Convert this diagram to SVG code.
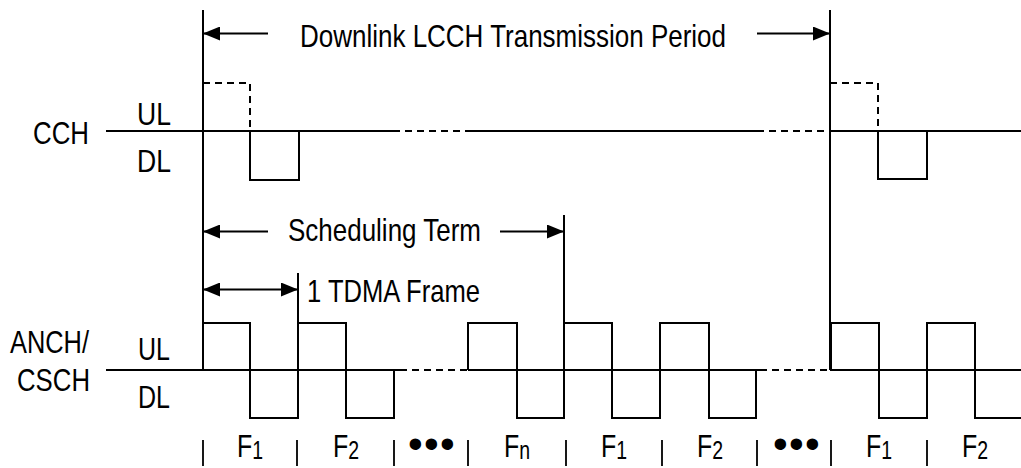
<svg xmlns="http://www.w3.org/2000/svg" width="1021" height="468" viewBox="0 0 1021 468">
<style>
  .ln{stroke:#000;stroke-width:2;fill:none}
  .thin{stroke:#000;stroke-width:1.8;fill:none}
  .dash{stroke:#000;stroke-width:2;fill:none;stroke-dasharray:7 5}
  .t{font-family:"Liberation Sans",Arial,sans-serif;font-size:31.5px;fill:#000}
  .f{font-family:"Liberation Sans",Arial,sans-serif;font-size:32px;fill:#000}
  .dots{font-family:"Liberation Sans",Arial,sans-serif;font-size:42px;fill:#000}
</style>
<defs>
  <marker id="ah" markerUnits="userSpaceOnUse" markerWidth="17" markerHeight="14" refX="17" refY="7" orient="auto-start-reverse">
    <path d="M0,0 L17,7 L0,14 Z" fill="#000"/>
  </marker>
</defs>
<rect width="1021" height="468" fill="#fff"/>

<g id="cch">
  <text class="t" x="33" y="144" textLength="56" lengthAdjust="spacingAndGlyphs">CCH</text>
  <text class="t" x="137" y="124.5" textLength="34" lengthAdjust="spacingAndGlyphs">UL</text>
  <text class="t" x="137" y="171.5" textLength="34" lengthAdjust="spacingAndGlyphs">DL</text>
  <path class="ln" d="M106,131 H393 M468,131 H757 M830,131 H1021"/>
  <path class="dash" d="M393,131 H468 M757,131 H830"/>
  <path class="dash" d="M203,83 H250 V131"/>
  <path class="ln" d="M250,131 V180 H299 V131"/>
  <path class="dash" d="M830,83 H878 V131"/>
  <path class="ln" d="M878,131 V179 H927 V131"/>
</g>

<g id="anch">
  <text class="t" x="10" y="353" textLength="79" lengthAdjust="spacingAndGlyphs">ANCH/</text>
  <text class="t" x="17" y="391" textLength="73" lengthAdjust="spacingAndGlyphs">CSCH</text>
  <text class="t" x="138" y="360" textLength="32" lengthAdjust="spacingAndGlyphs">UL</text>
  <text class="t" x="138" y="408" textLength="32" lengthAdjust="spacingAndGlyphs">DL</text>
  <path class="ln" d="M106,370 H400 M468,370 H760 M830,370 H1021"/>
  <path class="dash" d="M400,370 H468 M760,370 H830"/>
  <path class="ln" d="M203,370 V323 H250 V418 H298 V323 H346 V418 H394 V370"/>
  <path class="ln" d="M468,370 V323 H517 V418 H564 V323 H612 V418 H660 V323 H709 V418 H756 V370"/>
  <path class="ln" d="M831,370 V323 H879 V418 H927 V323 H975 V418 H1021"/>
</g>

<g id="boundaries">
  <path class="ln" d="M203,10 V370 M830,10 V370 M564,215 V323 M298,273 V323"/>
</g>

<g id="frames">
  <path class="thin" d="M203,440 V466 M297,440 V466 M394,440 V466 M468,440 V466 M566,440 V466 M662,440 V466 M757,440 V466 M831,440 V466 M927,440 V466"/>
  <text class="f" text-anchor="middle" transform="translate(250,457) scale(0.78,1)">F<tspan font-size="25" dy="2">1</tspan></text>
  <text class="f" text-anchor="middle" transform="translate(346,457) scale(0.78,1)">F<tspan font-size="25" dy="2">2</tspan></text>
  <text class="f" text-anchor="middle" transform="translate(517,457) scale(0.78,1)">F<tspan font-size="25" dy="2">n</tspan></text>
  <text class="f" text-anchor="middle" transform="translate(614,457) scale(0.78,1)">F<tspan font-size="25" dy="2">1</tspan></text>
  <text class="f" text-anchor="middle" transform="translate(710,457) scale(0.78,1)">F<tspan font-size="25" dy="2">2</tspan></text>
  <text class="f" text-anchor="middle" transform="translate(879,457) scale(0.78,1)">F<tspan font-size="25" dy="2">1</tspan></text>
  <text class="f" text-anchor="middle" transform="translate(975,457) scale(0.78,1)">F<tspan font-size="25" dy="2">2</tspan></text>
  <text class="dots" x="432" y="458" text-anchor="middle" letter-spacing="1.3">•••</text>
  <text class="dots" x="797" y="458" text-anchor="middle" letter-spacing="1.3">•••</text>
</g>

<g id="labels">
  <text class="t" x="300" y="47" textLength="426" lengthAdjust="spacingAndGlyphs">Downlink LCCH Transmission Period</text>
  <text class="t" x="288" y="241" textLength="193" lengthAdjust="spacingAndGlyphs">Scheduling Term</text>
  <text class="t" x="307" y="302" textLength="173" lengthAdjust="spacingAndGlyphs">1 TDMA Frame</text>
</g>

<g id="connectors">
  <line class="ln" x1="268" y1="33.5" x2="203" y2="33.5" marker-end="url(#ah)"/>
  <line class="ln" x1="757" y1="33.5" x2="830" y2="33.5" marker-end="url(#ah)"/>
  <line class="ln" x1="268" y1="231.5" x2="203" y2="231.5" marker-end="url(#ah)"/>
  <line class="ln" x1="500" y1="231.5" x2="564" y2="231.5" marker-end="url(#ah)"/>
  <line class="ln" x1="203" y1="289.5" x2="298" y2="289.5" marker-start="url(#ah)" marker-end="url(#ah)"/>
</g>
</svg>
